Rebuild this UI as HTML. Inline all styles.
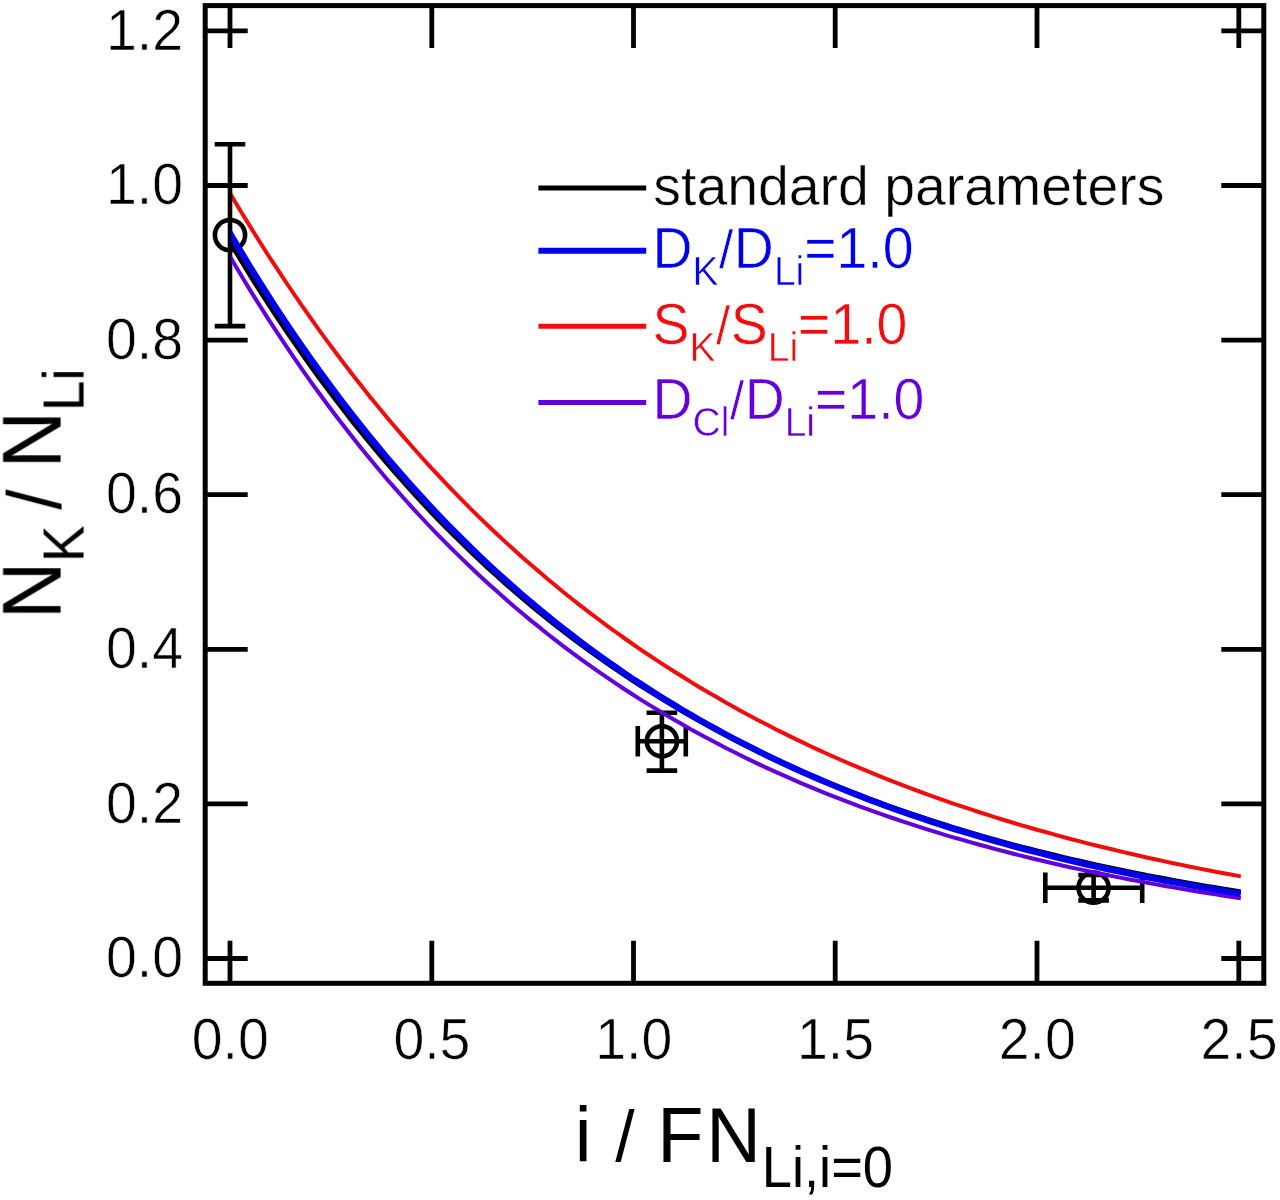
<!DOCTYPE html>
<html><head><meta charset="utf-8"><title>plot</title>
<style>
html,body{margin:0;padding:0;background:#fff;}
svg{display:block;}
text{font-family:"Liberation Sans",Arial,Helvetica,sans-serif;}
</style></head><body>
<svg width="1280" height="1200" viewBox="0 0 1280 1200">
<rect width="1280" height="1200" fill="#fff"/>
<filter id="soft" x="0" y="0" width="1280" height="1200" filterUnits="userSpaceOnUse"><feGaussianBlur stdDeviation="0.75"/></filter>
<g filter="url(#soft)">
<clipPath id="cc"><rect x="231.3" y="0" width="1009.7" height="1000"/></clipPath>
<clipPath id="cd"><rect x="229.5" y="0" width="1011.5" height="1000"/></clipPath>
<g clip-path="url(#cd)">
<polyline fill="none" stroke="#000" stroke-width="5.0" stroke-linejoin="round" points="226.0,235.1 234.4,249.3 242.9,263.3 251.3,277.0 259.8,290.4 268.2,303.5 276.7,316.4 285.2,329.1 293.6,341.4 302.1,353.6 310.5,365.5 319.0,377.2 327.4,388.6 335.9,399.8 344.4,410.8 352.8,421.6 361.3,432.1 369.7,442.5 378.2,452.7 386.6,462.6 395.1,472.4 403.6,481.9 412.0,491.3 420.5,500.5 428.9,509.5 437.4,518.4 445.8,527.0 454.3,535.5 462.8,543.8 471.2,552.0 479.7,560.0 488.1,567.8 496.6,575.5 505.0,583.1 513.5,590.4 521.9,597.7 530.4,604.8 538.9,611.7 547.3,618.6 555.8,625.3 564.2,631.8 572.7,638.2 581.1,644.5 589.6,650.7 598.1,656.8 606.5,662.7 615.0,668.5 623.4,674.2 631.9,679.8 640.3,685.3 648.8,690.7 657.3,696.0 665.7,701.1 674.2,706.2 682.6,711.2 691.1,716.0 699.5,720.8 708.0,725.5 716.5,730.1 724.9,734.6 733.4,739.0 741.8,743.3 750.3,747.5 758.7,751.7 767.2,755.7 775.6,759.7 784.1,763.6 792.6,767.5 801.0,771.2 809.5,774.9 817.9,778.5 826.4,782.1 834.8,785.5 843.3,788.9 851.8,792.3 860.2,795.6 868.7,798.8 877.1,801.9 885.6,805.0 894.0,808.0 902.5,811.0 911.0,813.9 919.4,816.7 927.9,819.5 936.3,822.2 944.8,824.9 953.2,827.6 961.7,830.1 970.2,832.7 978.6,835.1 987.1,837.6 995.5,839.9 1004.0,842.3 1012.4,844.6 1020.9,846.8 1029.4,849.0 1037.8,851.2 1046.3,853.3 1054.7,855.3 1063.2,857.4 1071.6,859.4 1080.1,861.3 1088.5,863.2 1097.0,865.1 1105.5,866.9 1113.9,868.7 1122.4,870.5 1130.8,872.2 1139.3,873.9 1147.7,875.6 1156.2,877.2 1164.7,878.8 1173.1,880.4 1181.6,881.9 1190.0,883.4 1198.5,884.9 1206.9,886.4 1215.4,887.8 1223.9,889.2 1232.3,890.5 1240.8,891.9"/>
<polyline fill="none" stroke="#f01010" stroke-width="4.0" stroke-linejoin="round" points="226.0,186.4 234.4,200.7 242.9,214.7 251.3,228.4 259.8,242.0 268.2,255.2 276.7,268.2 285.2,281.0 293.6,293.5 302.1,305.8 310.5,317.9 319.0,329.8 327.4,341.4 335.9,352.8 344.4,364.0 352.8,375.0 361.3,385.8 369.7,396.4 378.2,406.8 386.6,417.0 395.1,427.0 403.6,436.9 412.0,446.5 420.5,456.0 428.9,465.3 437.4,474.4 445.8,483.4 454.3,492.2 462.8,500.8 471.2,509.3 479.7,517.6 488.1,525.7 496.6,533.7 505.0,541.6 513.5,549.3 521.9,556.9 530.4,564.3 538.9,571.6 547.3,578.8 555.8,585.8 564.2,592.7 572.7,599.5 581.1,606.1 589.6,612.6 598.1,619.0 606.5,625.3 615.0,631.5 623.4,637.5 631.9,643.5 640.3,649.3 648.8,655.0 657.3,660.6 665.7,666.1 674.2,671.5 682.6,676.8 691.1,682.1 699.5,687.2 708.0,692.2 716.5,697.1 724.9,702.0 733.4,706.7 741.8,711.4 750.3,715.9 758.7,720.4 767.2,724.8 775.6,729.2 784.1,733.4 792.6,737.6 801.0,741.6 809.5,745.7 817.9,749.6 826.4,753.5 834.8,757.3 843.3,761.0 851.8,764.6 860.2,768.2 868.7,771.7 877.1,775.2 885.6,778.6 894.0,781.9 902.5,785.2 911.0,788.4 919.4,791.5 927.9,794.6 936.3,797.7 944.8,800.6 953.2,803.6 961.7,806.4 970.2,809.2 978.6,812.0 987.1,814.7 995.5,817.4 1004.0,820.0 1012.4,822.5 1020.9,825.1 1029.4,827.5 1037.8,830.0 1046.3,832.3 1054.7,834.7 1063.2,837.0 1071.6,839.2 1080.1,841.4 1088.5,843.6 1097.0,845.7 1105.5,847.8 1113.9,849.8 1122.4,851.9 1130.8,853.8 1139.3,855.8 1147.7,857.7 1156.2,859.5 1164.7,861.4 1173.1,863.2 1181.6,864.9 1190.0,866.7 1198.5,868.4 1206.9,870.0 1215.4,871.7 1223.9,873.3 1232.3,874.8 1240.8,876.4"/>
</g>
<path d="M230.0 144.3V326.1M214.7 144.3H245.3M214.7 326.1H245.3" stroke="#000" stroke-width="4.6" fill="none"/><circle cx="230.0" cy="235.1" r="15.1" fill="none" stroke="#000" stroke-width="4.6"/>
<path d="M661.9 712.8V770.6M646.6 712.8H677.2M646.6 770.6H677.2M637.8 741.3H685.8M637.8 726.0V756.6M685.8 726.0V756.6" stroke="#000" stroke-width="4.6" fill="none"/><circle cx="661.9" cy="741.3" r="15.1" fill="none" stroke="#000" stroke-width="4.6"/>
<path d="M1093.6 875.0V900.4M1078.3 875.0H1108.9M1078.3 900.4H1108.9M1045.3 887.7H1142.2M1045.3 872.4V903.0M1142.2 872.4V903.0" stroke="#000" stroke-width="4.6" fill="none"/><circle cx="1093.6" cy="887.7" r="15.1" fill="none" stroke="#000" stroke-width="4.6"/>
<g clip-path="url(#cc)">
<polyline fill="none" stroke="#6206dc" stroke-width="4.0" stroke-linejoin="round" points="226.0,249.7 234.4,264.1 242.9,278.2 251.3,292.1 259.8,305.6 268.2,318.9 276.7,331.9 285.2,344.6 293.6,357.1 302.1,369.3 310.5,381.3 319.0,393.0 327.4,404.5 335.9,415.8 344.4,426.8 352.8,437.6 361.3,448.2 369.7,458.6 378.2,468.7 386.6,478.7 395.1,488.4 403.6,498.0 412.0,507.3 420.5,516.5 428.9,525.5 437.4,534.3 445.8,542.9 454.3,551.4 462.8,559.6 471.2,567.7 479.7,575.7 488.1,583.5 496.6,591.1 505.0,598.6 513.5,605.9 521.9,613.0 530.4,620.1 538.9,626.9 547.3,633.7 555.8,640.3 564.2,646.8 572.7,653.1 581.1,659.3 589.6,665.4 598.1,671.3 606.5,677.2 615.0,682.9 623.4,688.5 631.9,694.0 640.3,699.4 648.8,704.6 657.3,709.8 665.7,714.8 674.2,719.8 682.6,724.6 691.1,729.4 699.5,734.1 708.0,738.6 716.5,743.1 724.9,747.5 733.4,751.8 741.8,756.0 750.3,760.1 758.7,764.1 767.2,768.1 775.6,771.9 784.1,775.7 792.6,779.4 801.0,783.1 809.5,786.6 817.9,790.1 826.4,793.6 834.8,796.9 843.3,800.2 851.8,803.4 860.2,806.6 868.7,809.6 877.1,812.7 885.6,815.6 894.0,818.5 902.5,821.4 911.0,824.2 919.4,826.9 927.9,829.6 936.3,832.2 944.8,834.8 953.2,837.3 961.7,839.7 970.2,842.2 978.6,844.5 987.1,846.8 995.5,849.1 1004.0,851.3 1012.4,853.5 1020.9,855.6 1029.4,857.7 1037.8,859.8 1046.3,861.8 1054.7,863.8 1063.2,865.7 1071.6,867.6 1080.1,869.4 1088.5,871.2 1097.0,873.0 1105.5,874.7 1113.9,876.4 1122.4,878.1 1130.8,879.7 1139.3,881.3 1147.7,882.9 1156.2,884.4 1164.7,886.0 1173.1,887.4 1181.6,888.9 1190.0,890.3 1198.5,891.7 1206.9,893.0 1215.4,894.4 1223.9,895.7 1232.3,896.9 1240.8,898.2"/>
<polyline fill="none" stroke="#0000ea" stroke-width="6.4" stroke-linejoin="round" points="226.0,226.5 234.4,240.9 242.9,255.0 251.3,268.9 259.8,282.5 268.2,295.8 276.7,308.9 285.2,321.7 293.6,334.2 302.1,346.5 310.5,358.6 319.0,370.4 327.4,382.0 335.9,393.4 344.4,404.6 352.8,415.5 361.3,426.2 369.7,436.8 378.2,447.1 386.6,457.2 395.1,467.1 403.6,476.8 412.0,486.4 420.5,495.7 428.9,504.9 437.4,513.9 445.8,522.7 454.3,531.3 462.8,539.8 471.2,548.1 479.7,556.2 488.1,564.2 496.6,572.0 505.0,579.7 513.5,587.2 521.9,594.6 530.4,601.8 538.9,608.9 547.3,615.8 555.8,622.7 564.2,629.3 572.7,635.9 581.1,642.3 589.6,648.6 598.1,654.8 606.5,660.8 615.0,666.7 623.4,672.6 631.9,678.3 640.3,683.8 648.8,689.3 657.3,694.7 665.7,699.9 674.2,705.1 682.6,710.2 691.1,715.1 699.5,720.0 708.0,724.7 716.5,729.4 724.9,734.0 733.4,738.5 741.8,742.9 750.3,747.2 758.7,751.4 767.2,755.6 775.6,759.6 784.1,763.6 792.6,767.5 801.0,771.3 809.5,775.1 817.9,778.8 826.4,782.4 834.8,785.9 843.3,789.4 851.8,792.8 860.2,796.1 868.7,799.4 877.1,802.6 885.6,805.7 894.0,808.8 902.5,811.8 911.0,814.7 919.4,817.6 927.9,820.4 936.3,823.2 944.8,825.9 953.2,828.6 961.7,831.2 970.2,833.8 978.6,836.3 987.1,838.8 995.5,841.2 1004.0,843.5 1012.4,845.9 1020.9,848.1 1029.4,850.4 1037.8,852.5 1046.3,854.7 1054.7,856.8 1063.2,858.8 1071.6,860.8 1080.1,862.8 1088.5,864.8 1097.0,866.7 1105.5,868.5 1113.9,870.3 1122.4,872.1 1130.8,873.9 1139.3,875.6 1147.7,877.3 1156.2,878.9 1164.7,880.5 1173.1,882.1 1181.6,883.6 1190.0,885.2 1198.5,886.7 1206.9,888.1 1215.4,889.5 1223.9,890.9 1232.3,892.3 1240.8,893.7"/>
</g>
<rect x="205.2" y="5.6" width="1058.6" height="977.6999999999999" fill="none" stroke="#000" stroke-width="5.0"/>
<path d="M230.0 983.3V940.8M230.0 5.6V48.1M431.8 983.3V940.8M431.8 5.6V48.1M633.5 983.3V940.8M633.5 5.6V48.1M835.2 983.3V940.8M835.2 5.6V48.1M1037.0 983.3V940.8M1037.0 5.6V48.1M1238.8 983.3V940.8M1238.8 5.6V48.1M205.2 958.5H247.7M1263.8 958.5H1221.3M205.2 803.9H247.7M1263.8 803.9H1221.3M205.2 649.3H247.7M1263.8 649.3H1221.3M205.2 494.7H247.7M1263.8 494.7H1221.3M205.2 340.1H247.7M1263.8 340.1H1221.3M205.2 185.5H247.7M1263.8 185.5H1221.3M205.2 30.9H247.7M1263.8 30.9H1221.3" stroke="#000" stroke-width="4.8" fill="none"/>
<g font-size="55.4" fill="#000" stroke="#fff" stroke-width="0.6">
<text transform="translate(230.2,1059.2) scale(1,1.04)" text-anchor="middle">0.0</text>
<text transform="translate(431.9,1059.2) scale(1,1.04)" text-anchor="middle">0.5</text>
<text transform="translate(633.7,1059.2) scale(1,1.04)" text-anchor="middle">1.0</text>
<text transform="translate(835.5,1059.2) scale(1,1.04)" text-anchor="middle">1.5</text>
<text transform="translate(1037.2,1059.2) scale(1,1.04)" text-anchor="middle">2.0</text>
<text transform="translate(1239.0,1059.2) scale(1,1.04)" text-anchor="middle">2.5</text>
<text transform="translate(183,977.2) scale(1,1.04)" text-anchor="end">0.0</text>
<text transform="translate(183,822.6) scale(1,1.04)" text-anchor="end">0.2</text>
<text transform="translate(183,668.0) scale(1,1.04)" text-anchor="end">0.4</text>
<text transform="translate(183,513.4) scale(1,1.04)" text-anchor="end">0.6</text>
<text transform="translate(183,358.8) scale(1,1.04)" text-anchor="end">0.8</text>
<text transform="translate(183,204.2) scale(1,1.04)" text-anchor="end">1.0</text>
<text transform="translate(183,49.6) scale(1,1.04)" text-anchor="end">1.2</text>
</g>
<line x1="538.4" x2="646.2" y1="188.0" y2="188.0" stroke="#000" stroke-width="5.0"/>
<line x1="538.4" x2="646.2" y1="250.7" y2="250.7" stroke="#0000ea" stroke-width="6.0"/>
<line x1="538.4" x2="646.2" y1="326.3" y2="326.3" stroke="#f01010" stroke-width="5.0"/>
<line x1="538.4" x2="646.2" y1="402.4" y2="402.4" stroke="#6206dc" stroke-width="5.0"/>
<g font-size="55.4" stroke="#fff" stroke-width="0.5">
<text x="653.3" y="205.2" fill="#000">standard parameters</text>
<text transform="translate(652.5,268.3) scale(1,1.04)" fill="#0000ea"><tspan>D</tspan><tspan font-size="39" dy="16.4">K</tspan><tspan font-size="51" dx="0.6" dy="-16.4">/</tspan><tspan dx="0.6">D</tspan><tspan font-size="39" dy="16.4">Li</tspan><tspan dy="-16.4">=1.0</tspan></text>
<text transform="translate(652.5,343.9) scale(1,1.04)" fill="#f01010"><tspan>S</tspan><tspan font-size="39" dy="16.4">K</tspan><tspan font-size="51" dx="0.6" dy="-16.4">/</tspan><tspan dx="0.6">S</tspan><tspan font-size="39" dy="16.4">Li</tspan><tspan dy="-16.4">=1.0</tspan></text>
<text transform="translate(652.5,419.4) scale(1,1.04)" fill="#6206dc"><tspan>D</tspan><tspan font-size="39" dy="16.4">Cl</tspan><tspan font-size="51" dx="0.6" dy="-16.4">/</tspan><tspan dx="0.6">D</tspan><tspan font-size="39" dy="16.4">Li</tspan><tspan dy="-16.4">=1.0</tspan></text>
</g>
<text transform="translate(0,1162.3) scale(1,1.04)" font-size="75.7" fill="#000"><tspan x="574.8">i </tspan><tspan x="615.2" font-size="69.6">/ </tspan><tspan x="657.3" letter-spacing="2.75">FN</tspan><tspan x="761.8" dy="24.2" font-size="54.3">Li,i=0</tspan></text>
<text transform="translate(60.5,619.2) rotate(-90) scale(1,1.04)" font-size="79.5" fill="#000"><tspan x="0" y="0">N</tspan><tspan x="57" y="22.1" font-size="55">K </tspan><tspan x="109.5" y="0" font-size="73">/ </tspan><tspan x="150.8" y="0">N</tspan><tspan x="208" y="22.1" font-size="55">Li</tspan></text>
</g></svg></body></html>
